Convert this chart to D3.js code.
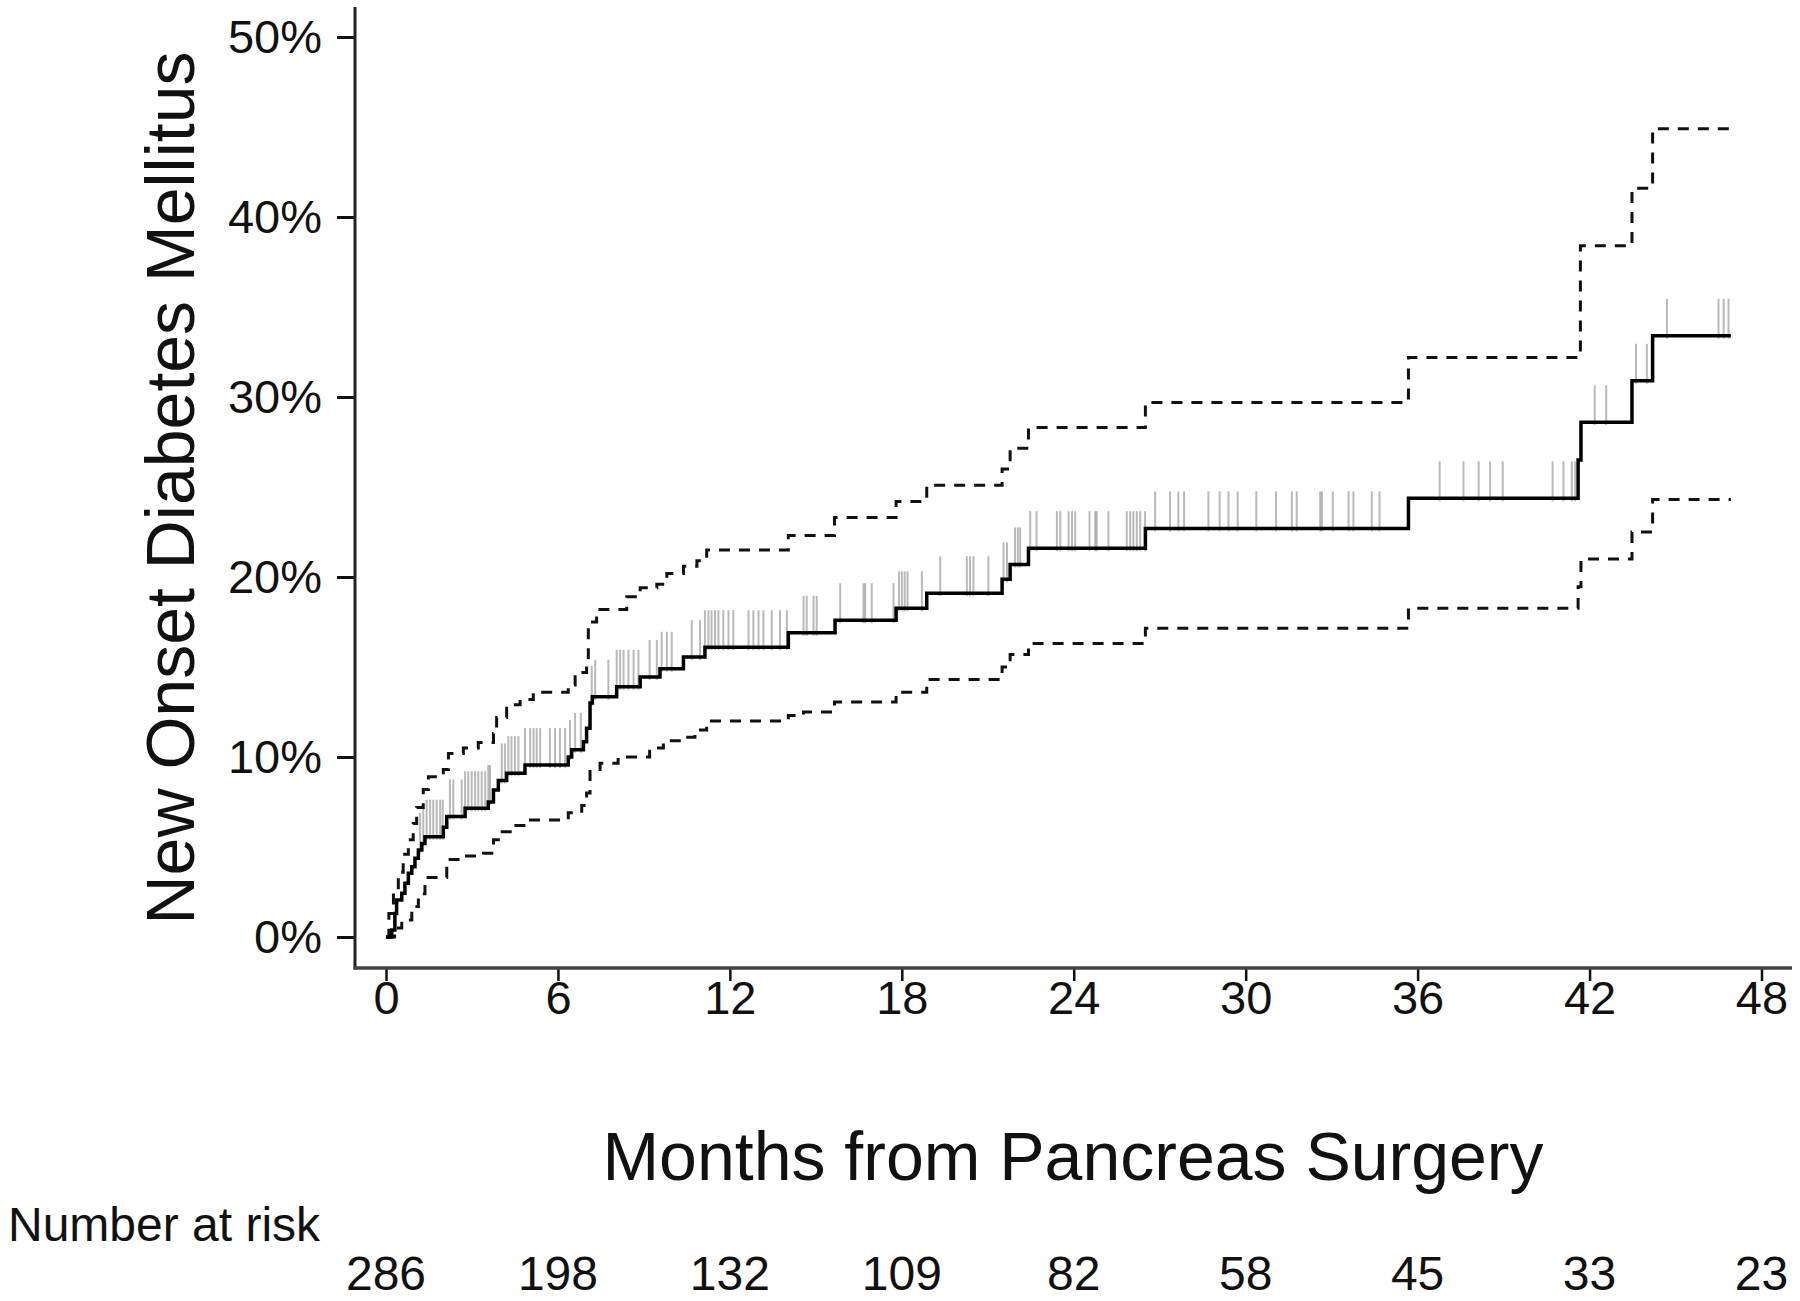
<!DOCTYPE html>
<html>
<head>
<meta charset="utf-8">
<script src="https://cdn.jsdelivr.net/npm/d3@7"></script>
<style>
    body { margin: 0; background: #fff; }
    text { font-family: 'Liberation Sans', Arial, sans-serif; fill: #111; }
</style>
</head>
<body>
<div id="chart"></div>
<script>
// Axis ticks
const xTicks = [0, 6, 12, 18, 24, 30, 36, 42, 48];
const yTicks = [0, 10, 20, 30, 40, 50];

// Number at risk under each x tick
const riskTimes = [0, 6, 12, 18, 24, 30, 36, 42, 48];
const riskCounts = [286, 198, 132, 109, 82, 58, 45, 33, 23];

// Cumulative incidence estimate (months, %)
const estTimes = [0, 0.2, 0.31, 0.37, 0.55, 0.66, 0.78, 0.9, 1.01, 1.13, 1.25, 1.36, 2.0, 2.12, 2.76, 3.57, 3.75, 3.92, 4.21, 4.85,
    6.36, 6.48, 6.89, 7.0, 7.12, 7.2, 8.05, 8.87, 9.56, 10.38, 11.13, 14.04, 15.67, 17.8, 18.87, 21.5, 21.78, 22.42, 26.5,
    35.68, 41.6, 41.7, 43.48, 44.2, 46.93];
const estValues = [0, 0.39, 1.3, 2.06, 2.43, 2.98, 3.54, 3.9, 4.37, 4.83, 5.2, 5.57, 6.1, 6.7, 7.15, 7.5, 8.17, 8.7, 9.1, 9.55,
    10.0, 10.4, 10.85, 11.6, 13.0, 13.35, 13.9, 14.45, 14.9, 15.55, 16.1, 16.9, 17.6, 18.26, 19.1, 19.87, 20.7, 21.6, 22.7,
    24.37, 26.5, 28.6, 30.9, 33.4, 33.4];

// Upper confidence limit
const upperTimes = [0, 0.1, 0.26, 0.43, 0.6, 0.78, 0.95, 1.07, 1.3, 1.48, 2.0, 2.18, 2.7, 3.22, 3.75, 3.86, 4.21, 4.68, 5.14,
    6.36, 6.6, 7.0, 7.06, 7.35, 8.4, 8.87, 9.45, 9.8, 10.38, 10.85, 11.19, 14.04, 15.65, 17.8, 18.87, 21.5, 21.78, 22.42, 26.5,
    35.68, 41.68, 43.48, 44.2, 46.93];
const upperValues = [0, 1.3, 2.6, 3.6, 4.6, 5.4, 6.3, 7.2, 8.2, 8.9, 9.3, 10.2, 10.5, 10.8, 11.3, 12.2, 12.9, 13.2, 13.6,
    14.0, 14.7, 15.4, 17.5, 18.2, 18.9, 19.4, 19.6, 20.2, 20.6, 20.9, 21.5, 22.3, 23.3, 24.2, 25.1, 26.0, 27.15, 28.3, 29.7,
    32.2, 38.4, 41.6, 44.9, 44.9];

// Lower confidence limit
const lowerTimes = [0, 0.3, 0.55, 0.9, 1.13, 1.36, 2.12, 2.7, 3.4, 3.75, 3.92, 4.44, 4.91, 6.36, 6.83, 7.0, 7.12, 7.47, 8.1,
    9.2, 9.68, 10.3, 10.78, 11.19, 14.04, 14.57, 15.65, 17.8, 18.87, 21.5, 21.78, 22.42, 26.5, 35.68, 41.6, 41.7, 43.48, 44.2, 46.93];
const lowerValues = [0, 0.5, 0.95, 1.7, 2.4, 3.3, 4.3, 4.5, 4.65, 5.4, 5.85, 6.2, 6.5, 6.9, 7.3, 8.0, 9.3, 9.65, 10.0,
    10.5, 10.9, 11.1, 11.5, 12.0, 12.3, 12.5, 13.05, 13.6, 14.3, 15.0, 15.7, 16.3, 17.15, 18.26, 19.46, 21.0, 22.5, 24.3, 24.3];

// Censoring times (months)
const censorTimes = [1.19, 1.3, 1.42, 1.54, 1.65, 1.77, 1.89, 1.98, 2.23, 2.35, 2.64, 2.76, 2.87, 2.99, 3.11, 3.22, 3.34, 3.46,
    3.57, 3.63, 4.04, 4.15, 4.27, 4.38, 4.5, 4.62, 4.85, 5.03, 5.15, 5.26, 5.38, 5.72, 5.9, 6.07, 6.25, 6.42, 6.6, 6.8,
    7.18, 7.3, 7.76, 8.05, 8.17, 8.29, 8.46, 8.64, 8.81, 9.2, 9.45, 9.62, 9.8, 9.97, 10.67, 10.96, 11.13, 11.25, 11.36, 11.48,
    11.6, 11.77, 11.95, 12.12, 12.65, 12.82, 13.0, 13.17, 13.46, 13.75, 13.99, 14.57, 14.68, 14.92, 15.03, 15.85, 16.66,
    16.72, 16.95, 17.71, 17.9, 18.0, 18.1, 18.2, 18.7, 19.34, 20.27, 20.38, 20.5, 21.02, 21.55, 21.67, 21.95, 22.05, 22.13,
    22.48, 22.7, 23.41, 23.53, 23.82, 23.94, 24.05, 24.55, 24.75, 24.8, 25.21, 25.85, 25.97, 26.08, 26.2, 26.32,
    26.49, 26.84, 27.36, 27.65, 27.85, 28.7, 29.09, 29.4, 29.72, 30.37, 31.06, 31.61, 31.78, 32.6, 32.66, 33.04, 33.59,
    33.76, 34.4, 34.67, 36.77, 37.6, 38.13, 38.53, 38.97, 40.71, 41.09, 41.38, 41.5, 42.18, 42.58, 43.62, 44.0,
    44.7, 46.5, 46.68, 46.85];

const width = 1800, height = 1301;
const axisLeftX = 355, axisBottomY = 968;
const censorHeight = 37;

// Add svg to canvas
const svg = d3.select('#chart')
    .append('svg')
    .attr('width', width)
    .attr('height', height)
    .style('background', '#fff');

// Set ranges
const x = d3.scaleLinear().domain([0, 48]).range([386, 1761.5]);
const y = d3.scaleLinear().domain([0, 50]).range([937, 37]);

// Step lines
const stepLine = d3.line()
    .curve(d3.curveStepAfter)
    .x(d => x(d[0]))
    .y(d => y(d[1]));

// Value of the estimate at a given time
function estimateAt(t) {
    const i = d3.bisectRight(estTimes, t) - 1;
    return estValues[Math.max(0, i)];
}

// Censoring marks
svg.append('g')
    .selectAll('line')
    .data(censorTimes)
    .enter()
    .append('line')
        .attr('x1', d => x(d))
        .attr('x2', d => x(d))
        .attr('y1', d => y(estimateAt(d)) + 3)
        .attr('y2', d => y(estimateAt(d)) - censorHeight)
        .attr('stroke', '#808080')
        .attr('stroke-opacity', 0.55)
        .attr('stroke-width', 2);

// Confidence limits
[[upperTimes, upperValues], [lowerTimes, lowerValues]].forEach(([ts, vs]) => {
    svg.append('path')
        .attr('fill', 'none')
        .attr('stroke', '#111')
        .attr('stroke-width', 3)
        .attr('stroke-dasharray', '11,9')
        .attr('d', stepLine(d3.zip(ts, vs)));
});

// Estimate
svg.append('path')
    .attr('fill', 'none')
    .attr('stroke', '#000')
    .attr('stroke-width', 3.5)
    .attr('d', stepLine(d3.zip(estTimes, estValues)));

// Y axis
const yAxis = svg.append('g')
    .attr('transform', 'translate(' + axisLeftX + ',0)')
    .call(d3.axisLeft(y).tickValues(yTicks).tickSize(18).tickPadding(15).tickFormat(d => d + '%'));
yAxis.select('.domain').remove();
yAxis.selectAll('line').attr('stroke', '#111').attr('stroke-width', 3);
yAxis.selectAll('text').style('font-size', '47px').attr('fill', '#111');

// X axis
const xAxis = svg.append('g')
    .attr('transform', 'translate(0,' + axisBottomY + ')')
    .call(d3.axisBottom(x).tickValues(xTicks).tickSize(13).tickPadding(0));
xAxis.select('.domain').remove();
xAxis.selectAll('line').attr('stroke', '#111').attr('stroke-width', 2.5);
xAxis.selectAll('text').style('font-size', '47px').attr('fill', '#111');

// Axis frame lines
svg.append('line')
    .attr('x1', axisLeftX).attr('x2', axisLeftX)
    .attr('y1', 7).attr('y2', axisBottomY + 1.5)
    .attr('stroke', '#222').attr('stroke-width', 3);
svg.append('line')
    .attr('x1', axisLeftX - 1.5).attr('x2', 1792)
    .attr('y1', axisBottomY).attr('y2', axisBottomY)
    .attr('stroke', '#444').attr('stroke-width', 3.5);

// Label for the y axis
svg.append('text')
    .attr('transform', 'translate(194,' + 488 + ') rotate(-90)')
    .attr('text-anchor', 'middle')
    .style('font-size', '68px')
    .text('New Onset Diabetes Mellitus');

// Label for the x axis
svg.append('text')
    .attr('x', 1073)
    .attr('y', 1180)
    .attr('text-anchor', 'middle')
    .style('font-size', '68px')
    .text('Months from Pancreas Surgery');

// Number at risk
svg.append('text')
    .attr('x', 8)
    .attr('y', 1241)
    .style('font-size', '48px')
    .text('Number at risk');
svg.append('g')
    .selectAll('text')
    .data(d3.zip(riskTimes, riskCounts))
    .enter()
    .append('text')
        .attr('x', d => x(d[0]))
        .attr('y', 1290)
        .attr('text-anchor', 'middle')
        .style('font-size', '48px')
        .text(d => d[1]);
</script>
</body>
</html>
